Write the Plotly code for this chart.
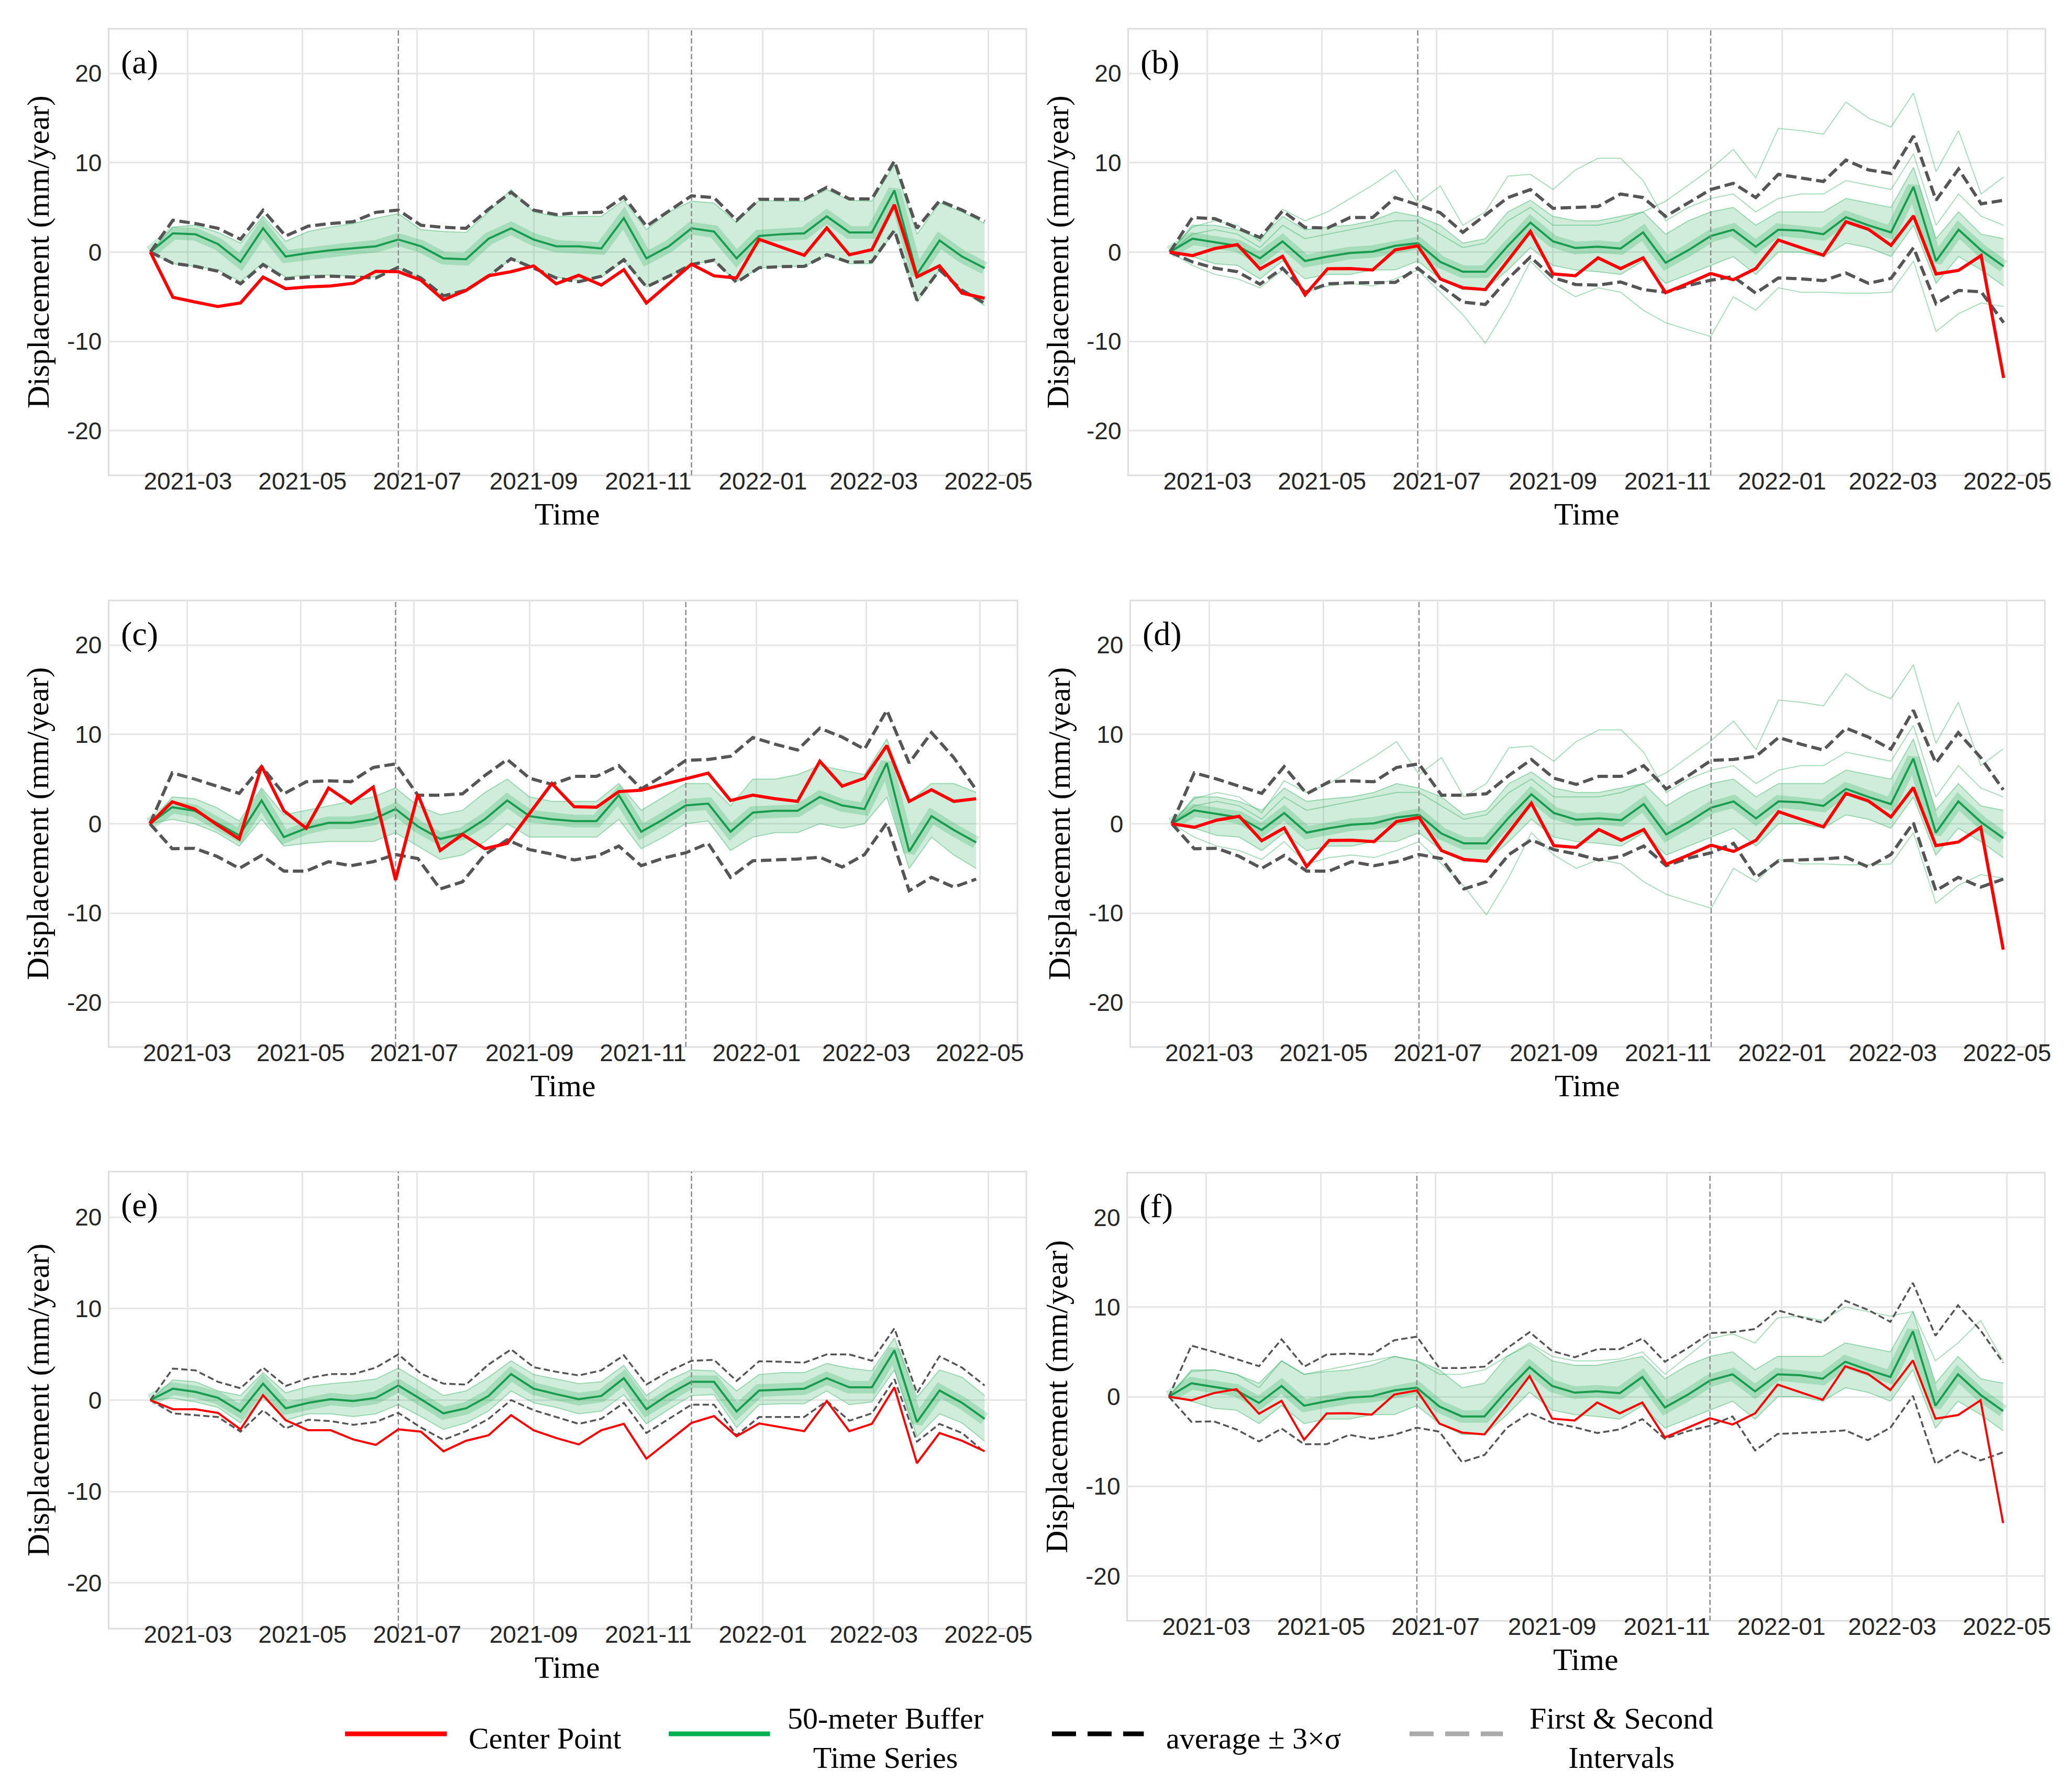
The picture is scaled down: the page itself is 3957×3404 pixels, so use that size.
import plotly.graph_objects as go

W, H = 3957, 3404

dates = ["2021-02-09", "2021-02-21", "2021-03-05", "2021-03-17", "2021-03-29", "2021-04-10",
         "2021-04-22", "2021-05-04", "2021-05-16", "2021-05-28", "2021-06-09", "2021-06-21",
         "2021-07-03", "2021-07-15", "2021-07-27", "2021-08-08", "2021-08-20", "2021-09-01",
         "2021-09-13", "2021-09-25", "2021-10-07", "2021-10-19", "2021-10-31", "2021-11-12",
         "2021-11-24", "2021-12-06", "2021-12-18", "2021-12-30", "2022-01-11", "2022-01-23",
         "2022-02-04", "2022-02-16", "2022-02-28", "2022-03-12", "2022-03-24", "2022-04-05",
         "2022-04-17", "2022-04-29"]

xtick_vals = ["2021-03-01", "2021-05-01", "2021-07-01", "2021-09-01", "2021-11-01",
              "2022-01-01", "2022-03-01", "2022-05-01"]
xtick_text = ["2021-03", "2021-05", "2021-07", "2021-09", "2021-11", "2022-01", "2022-03", "2022-05"]
ytick_vals = [-20, -10, 0, 10, 20]
ytick_text = ["-20", "-10", "0", "10", "20"]
interval_dates = ["2021-06-21", "2021-11-24"]
x_range = ["2021-01-17 19:00", "2022-05-21 05:00"]
y_range = [-25, 25]

# ---- center point series ----
red_a = [0, -5.06, -5.6, -6.1, -5.7, -2.8, -4.1, -3.9, -3.8, -3.5, -2.15, -2.2, -3.15, -5.35, -4.3, -2.65,
         -2.2, -1.55, -3.55, -2.6, -3.7, -1.97, -5.7, -3.5, -1.36, -2.66, -2.9, 1.43, 0.54, -0.36, 2.7,
         -0.3, 0.27, 5.3, -2.77, -1.54, -4.6, -5.17]
red_bdf = [0, -0.4, 0.4, 0.84, -1.9, -0.47, -4.8, -1.87, -1.84, -2.0, 0.24, 0.7, -3.0, -4.0, -4.2, -1.0,
           2.3, -2.45, -2.65, -0.65, -1.85, -0.65, -4.55, -3.5, -2.4, -3.1, -1.85, 1.35, 0.5, -0.35, 3.4,
           2.55, 0.75, 4.05, -2.45, -2.05, -0.4, -14.1]
red_c = [0, 2.45, 1.65, -0.1, -1.7, 6.45, 1.45, -0.5, 4.0, 2.3, 4.1, -6.3, 3.3, -3.0, -1.2, -2.8, -2.2,
         1.1, 4.5, 1.9, 1.85, 3.6, 3.75, 4.4, 5.0, 5.67, 2.6, 3.2, 2.8, 2.5, 7.0, 4.2, 5.1, 8.75, 2.5,
         3.8, 2.5, 2.8]
red_e = [0, -1.0, -1.0, -1.4, -3.2, 0.55, -2.2, -3.3, -3.3, -4.3, -4.9, -3.2, -3.45, -5.6, -4.45, -3.85,
         -1.65, -3.3, -4.15, -4.85, -3.3, -2.6, -6.4, -4.45, -2.5, -1.75, -3.95, -2.55, -3.0, -3.4, -0.1,
         -3.4, -2.6, 1.4, -6.9, -3.6, -4.45, -5.6]

# ---- average +/- 3 sigma envelopes ----
env_hi_a = [0, 3.56, 3.2, 2.66, 1.43, 4.68, 1.8, 2.9, 3.2, 3.4, 4.45, 4.7, 3.0, 2.77, 2.66, 4.8, 6.7, 4.7,
            4.2, 4.4, 4.45, 6.2, 2.9, 4.6, 6.3, 6.1, 3.55, 5.9, 5.9, 5.9, 7.25, 5.95, 5.95, 10.2, 2.66,
            5.75, 4.7, 3.45]
env_lo_a = [0, -1.25, -1.6, -2.15, -3.56, -1.4, -3.0, -2.8, -2.7, -2.77, -2.9, -1.7, -2.9, -4.9, -4.27,
            -2.7, -0.74, -1.8, -2.9, -3.33, -2.7, -0.85, -3.9, -2.7, -1.4, -0.9, -3.4, -1.75, -1.63, -1.6,
            -0.3, -1.14, -1.07, 2.44, -5.4, -2.0, -4.27, -5.73]
env_hi_b = [0, 3.87, 3.74, 2.7, 1.63, 4.6, 2.76, 2.7, 3.87, 3.87, 6.1, 5.3, 4.4, 2.2, 4.1, 6.1, 7.0, 4.9,
            5.0, 5.1, 6.5, 6.1, 4.0, 5.5, 7.0, 7.7, 6.1, 8.7, 8.3, 7.9, 10.3, 9.2, 8.8, 13.0, 5.8, 9.3,
            5.4, 5.8]
env_lo_b = [0, -1.1, -1.8, -2.2, -3.6, -1.8, -4.5, -3.55, -3.45, -3.4, -3.4, -1.8, -3.76, -5.6, -5.87,
            -3.0, -0.55, -2.85, -3.63, -3.7, -3.35, -4.2, -4.5, -3.75, -3.15, -2.75, -4.6, -2.9, -3.0,
            -3.2, -2.35, -3.5, -2.95, 0.5, -5.8, -4.3, -4.45, -7.9]
env_hi_cdf = [0, 5.7, 5.0, 4.2, 3.4, 6.4, 3.35, 4.7, 4.8, 4.7, 6.3, 6.7, 3.2, 3.2, 3.35, 5.4, 7.2, 5.1,
              4.4, 5.3, 5.3, 6.5, 3.9, 5.4, 7.1, 7.2, 7.55, 9.65, 8.9, 8.25, 10.7, 9.7, 8.35, 12.7, 6.8,
              10.2, 7.4, 3.8]
env_lo_cdf = [0, -2.8, -2.75, -3.65, -5.0, -3.55, -5.3, -5.3, -4.25, -4.7, -4.25, -3.45, -3.9, -7.3,
              -6.5, -3.45, -1.8, -2.9, -3.4, -4.05, -3.65, -2.5, -4.7, -3.85, -3.25, -2.2, -6.0, -4.15,
              -4.05, -3.95, -3.75, -4.85, -3.45, 0.1, -7.5, -6.0, -7.1, -6.2]
env_hi_e = [0, 3.45, 3.25, 2.0, 1.3, 3.55, 1.55, 2.4, 2.85, 2.85, 3.55, 5.0, 2.9, 1.8, 1.7, 3.9, 5.55,
            3.6, 3.1, 2.7, 3.25, 4.9, 1.7, 3.15, 4.3, 4.4, 2.1, 4.25, 4.2, 4.1, 5.0, 5.0, 4.3, 7.85,
            0.77, 4.8, 3.55, 1.6]
env_lo_e = [0, -1.45, -1.65, -1.85, -3.45, -1.1, -3.1, -2.15, -2.3, -2.7, -2.4, -1.4, -3.0, -4.35, -3.4,
            -2.05, 0.0, -1.1, -1.85, -2.6, -2.05, -0.3, -3.6, -2.05, -0.5, -0.5, -3.85, -1.85, -1.85,
            -1.85, -0.1, -2.25, -1.45, 2.3, -4.55, -2.6, -3.6, -5.7]

# ---- 50-meter buffer bundles (upper edge, lower edge, dense core) ----
grn_hi_a = [0, 2.8, 3.0, 2.2, 1.0, 4.0, 1.2, 2.3, 2.8, 3.2, 3.8, 4.3, 2.5, 2.3, 2.2, 4.5, 7.0, 4.5, 4.0,
            4.0, 4.0, 5.8, 2.5, 4.5, 5.7, 5.5, 3.3, 5.8, 5.7, 5.7, 7.0, 5.8, 5.7, 9.8, 2.0, 5.5, 4.5, 3.2]
grn_lo_a = [0, -1.3, -1.6, -2.0, -3.3, -1.2, -2.8, -2.6, -2.6, -2.7, -2.8, -1.8, -2.9, -5.0, -4.2, -2.6,
            -0.8, -1.8, -2.8, -3.2, -2.8, -1.0, -3.9, -2.7, -1.3, -1.0, -3.3, -1.8, -1.6, -1.6, -0.4,
            -1.3, -1.3, 2.4, -5.6, -2.0, -4.3, -6.0]
grn_mid_a = [0, 2.1, 2.0, 0.9, -1.1, 2.66, -0.5, -0.1, 0.2, 0.4, 0.65, 1.4, 0.65, -0.7, -0.8, 1.5, 2.66,
             1.4, 0.65, 0.65, 0.4, 3.8, -0.7, 0.65, 2.66, 2.3, -0.7, 1.8, 2.0, 2.1, 4.0, 2.2, 2.2, 6.9,
             -2.5, 1.3, -0.5, -1.8]

grn_hi_b = [0, 3.0, 3.0, 2.5, 1.5, 4.0, 2.5, 2.8, 3.0, 3.5, 4.5, 4.0, 3.0, 1.0, 1.5, 4.5, 5.8, 4.0, 3.5,
            3.5, 4.0, 4.5, 2.0, 3.5, 4.5, 5.0, 3.0, 4.5, 4.5, 4.5, 6.0, 5.5, 5.0, 9.5, 1.5, 4.5, 2.0, 1.5]
grn_lo_b = [0, -0.5, -1.3, -1.5, -3.0, -1.0, -3.0, -2.5, -2.5, -2.0, -2.0, -1.0, -3.0, -4.2, -4.2, -2.0,
            0.5, -1.5, -2.0, -2.2, -2.5, -1.0, -3.5, -2.5, -1.5, -0.5, -2.5, 0.0, 0.0, -0.5, 1.0, 0.5,
            -0.5, 3.0, -3.5, -0.5, -2.0, -3.8]
grn_mid_b = [0, 1.5, 1.1, 0.7, -0.7, 1.2, -1.0, -0.5, -0.1, 0.05, 0.7, 1.0, -1.1, -2.2, -2.2, 0.7, 3.3,
             1.2, 0.45, 0.6, 0.4, 2.2, -1.2, 0.2, 1.8, 2.5, 0.6, 2.5, 2.4, 2.0, 3.9, 3.0, 2.2, 7.3, -1.0,
             2.5, 0.2, -1.6]
grn_out1_b = [0, 2.0, 2.5, 2.0, 0.5, 3.0, 1.5, 2.0, 2.5, 3.0, 3.5, 3.5, 2.0, 0.5, 1.0, 3.5, 5.0, 3.0, 3.0,
              3.0, 3.5, 4.5, 5.7, 7.5, 9.3, 11.5, 8.3, 13.85, 13.6, 13.2, 16.8, 15.0, 14.0, 17.8, 9.0,
              13.6, 6.5, 8.4]
grn_out2_b = [0, 2.8, 3.5, 3.0, 1.2, 4.8, 3.5, 4.5, 6.0, 7.5, 9.2, 5.5, 7.4, 3.0, 4.5, 8.5, 8.7, 7.0, 9.2,
              10.5, 10.5, 8.0, 3.5, 5.0, 6.0, 6.5, 4.5, 6.0, 6.5, 6.5, 8.0, 7.5, 7.0, 11.0, 3.0, 6.5,
              4.0, 3.0]
grn_out3_b = [0, -1.5, -2.5, -3.0, -4.0, -2.0, -4.5, -3.8, -3.5, -3.8, -3.0, -2.0, -4.5, -7.0, -10.2,
              -6.0, -1.0, -3.5, -5.0, -4.0, -4.5, -6.5, -7.9, -8.7, -9.45, -5.0, -6.5, -4.0, -4.5, -4.5,
              -4.6, -4.6, -4.5, -1.0, -8.9, -6.9, -5.7, -6.1]

grn_hi_c = [0, 3.0, 2.8, 1.8, 0.3, 4.0, 1.0, 1.5, 2.0, 2.5, 3.0, 4.0, 2.0, 1.0, 1.5, 3.5, 5.0, 3.0, 2.5,
            2.5, 2.5, 4.5, 1.5, 3.0, 4.5, 4.5, 2.0, 5.0, 5.0, 5.5, 6.5, 6.0, 5.5, 9.5, 2.5, 4.5, 4.5, 3.5]
grn_lo_c = [0, 0.5, 0.0, -1.0, -2.5, 0.5, -2.5, -2.2, -2.0, -2.0, -2.0, -1.0, -2.5, -4.0, -3.5, -2.0,
            0.0, -1.5, -1.5, -1.5, -1.5, 0.5, -2.8, -1.5, 0.0, 0.3, -3.0, -1.5, -1.0, -1.0, 0.0, -0.5,
            0.0, 3.0, -5.0, -1.5, -3.5, -5.0]
grn_mid_c = [0, 1.85, 1.45, 0.1, -1.3, 2.6, -1.5, -0.5, 0.1, 0.1, 0.5, 1.65, -0.3, -1.7, -1.1, 0.5, 2.6,
             0.85, 0.5, 0.3, 0.3, 3.2, -0.9, 0.5, 2.05, 2.25, -0.9, 1.25, 1.45, 1.45, 3.0, 2.05, 1.65,
             6.8, -3.1, 0.85, -0.7, -2.1]

grn_hi_e = [0, 2.2, 2.0, 1.0, 0.5, 3.0, 0.8, 1.5, 1.8, 2.0, 2.3, 3.5, 2.0, 0.5, 1.0, 2.5, 4.3, 2.8, 2.3,
            1.8, 2.0, 3.8, 0.5, 2.2, 3.3, 3.2, 1.0, 2.8, 3.0, 3.0, 4.0, 3.5, 3.2, 6.8, 0.3, 3.3, 2.5, 0.5]
grn_lo_e = [0, 0.2, -0.2, -0.8, -2.5, 0.3, -2.2, -1.5, -1.5, -1.8, -1.5, -0.5, -1.8, -3.2, -2.5, -1.2,
            1.0, -0.3, -0.8, -1.5, -1.2, 0.6, -2.6, -1.0, 0.5, 0.6, -3.0, -0.5, -0.4, -0.4, 1.0, -0.5,
            -0.2, 3.3, -4.0, -1.5, -2.5, -4.5]
grn_mid_e = [0, 1.25, 0.9, 0.25, -1.25, 1.8, -0.9, -0.3, 0.1, -0.1, 0.25, 1.6, 0.1, -1.45, -0.9, 0.45,
             2.85, 1.25, 0.65, 0.1, 0.45, 2.4, -1.0, 0.65, 2.0, 2.0, -1.25, 1.05, 1.15, 1.25, 2.4, 1.4,
             1.4, 5.45, -2.4, 1.05, -0.3, -2.05]

grn_out_f = [0, 2.8, 3.0, 2.5, 1.0, 4.0, 2.5, 3.0, 3.5, 4.0, 4.5, 4.0, 2.5, 2.5, 3.0, 4.5, 6.0, 4.5, 4.0,
             4.0, 4.2, 5.0, 2.5, 4.5, 6.5, 7.0, 6.0, 8.8, 9.0, 8.5, 10.0, 9.5, 9.0, 9.5, 4.0, 6.0, 8.5,
             4.0]

panel_labels = ["(a)", "(b)", "(c)", "(d)", "(e)", "(f)"]
legend_labels = ["Center Point", "50-meter Buffer<br>Time Series", "average ± 3×σ",
                 "First &amp; Second<br>Intervals"]
y_title = "Displacement (mm/year)"
x_title = "Time"

# ---------------- styling / layout ----------------
SERIF = "Liberation Serif, Times New Roman, serif"
SANS = "Liberation Sans, Arial, sans-serif"
RED = "#ff0000"
ENV = "#555555"
GRID = "#e6e6e6"
FRAME = "#dddddd"

# pixel boxes (left, right, top, bottom)
boxes = [(200, 1958, 47, 900), (2153, 3910, 47, 900),
         (200, 1941, 1139, 1992), (2157, 3909, 1139, 1992),
         (200, 1958, 2230, 3103), (2151, 3909, 2232, 3088)]

panels = [
    dict(red=red_a, ehi=env_hi_a, elo=env_lo_a, ghi=grn_hi_a, glo=grn_lo_a, gmid=grn_mid_a, extra=[], thick=True),
    dict(red=red_bdf, ehi=env_hi_b, elo=env_lo_b, ghi=grn_hi_b, glo=grn_lo_b, gmid=grn_mid_b,
         extra=[grn_out1_b, grn_out2_b, grn_out3_b], thick=True),
    dict(red=red_c, ehi=env_hi_cdf, elo=env_lo_cdf, ghi=grn_hi_c, glo=grn_lo_c, gmid=grn_mid_c, extra=[], thick=True),
    dict(red=red_bdf, ehi=env_hi_cdf, elo=env_lo_cdf, ghi=grn_hi_b, glo=grn_lo_b, gmid=grn_mid_b,
         extra=[grn_out1_b, grn_out2_b, grn_out3_b], thick=True),
    dict(red=red_e, ehi=env_hi_e, elo=env_lo_e, ghi=grn_hi_e, glo=grn_lo_e, gmid=grn_mid_e, extra=[], thick=False),
    dict(red=red_bdf, ehi=env_hi_cdf, elo=env_lo_cdf, ghi=grn_hi_b, glo=grn_lo_b, gmid=grn_mid_b,
         extra=[grn_out_f], thick=False),
]

fig = go.Figure()
annotations = []
shapes = []
layout_axes = {}


def px2x(p):
    return p / W


def px2y(p):
    return 1 - p / H


for i, (p, box) in enumerate(zip(panels, boxes)):
    suf = "" if i == 0 else str(i + 1)
    xa, ya = "x" + suf, "y" + suf
    L, R, T, B = box
    common = dict(xaxis=xa, yaxis=ya, mode="lines", hoverinfo="skip", showlegend=False)

    # buffer bundle: filled band between lower and upper edges
    fig.add_trace(go.Scatter(x=dates, y=p["glo"], line=dict(color="rgba(40,170,90,0.40)", width=2), **common))
    fig.add_trace(go.Scatter(x=dates, y=p["ghi"], fill="tonexty", fillcolor="rgba(55,180,100,0.24)",
                             line=dict(color="rgba(40,170,90,0.40)", width=2), **common))
    for ex in p["extra"]:
        fig.add_trace(go.Scatter(x=dates, y=ex, line=dict(color="rgba(50,175,95,0.42)", width=2), **common))
    # dense core of the bundle
    fig.add_trace(go.Scatter(x=dates, y=p["gmid"], line=dict(color="rgba(20,160,70,0.22)", width=24), **common))
    fig.add_trace(go.Scatter(x=dates, y=p["gmid"], line=dict(color="rgba(0,145,60,0.85)", width=4), **common))

    # interval lines
    for d in interval_dates:
        fig.add_trace(go.Scatter(x=[d, d], y=y_range, line=dict(color="#8c8c8c", width=2.5, dash="10px,5px"),
                                 **common))

    # envelope
    ew = 6 if p["thick"] else 3.5
    ed = "20px,9px" if p["thick"] else "12px,6px"
    fig.add_trace(go.Scatter(x=dates, y=p["ehi"], line=dict(color=ENV, width=ew, dash=ed), **common))
    fig.add_trace(go.Scatter(x=dates, y=p["elo"], line=dict(color=ENV, width=ew, dash=ed), **common))

    # center point
    fig.add_trace(go.Scatter(x=dates, y=p["red"], line=dict(color=RED, width=6 if p["thick"] else 4),
                             **common))

    xkey = "xaxis" + suf
    ykey = "yaxis" + suf
    layout_axes[xkey] = dict(domain=[px2x(L), px2x(R)], anchor=ya, type="date", range=x_range,
                             tickmode="array", tickvals=xtick_vals, ticktext=xtick_text,
                             showgrid=True, gridcolor=GRID, gridwidth=3, zeroline=False,
                             showline=False, ticks="", ticklen=0, ticklabelstandoff=-20,
                             tickfont=dict(family=SANS, size=46, color="#262626"))
    layout_axes[ykey] = dict(domain=[px2y(B), px2y(T)], anchor=xa, range=y_range,
                             tickmode="array", tickvals=ytick_vals, ticktext=ytick_text,
                             showgrid=True, gridcolor=GRID, gridwidth=3, zeroline=False,
                             showline=False, ticks="", ticklen=0, ticklabelstandoff=12,
                             tickfont=dict(family=SANS, size=46, color="#262626"))

    # light frame around the axes
    shapes.append(dict(type="rect", xref="paper", yref="paper", x0=px2x(L), x1=px2x(R), y0=px2y(B),
                       y1=px2y(T), line=dict(color=FRAME, width=3), layer="below"))

    annotations.append(dict(text=panel_labels[i], x=px2x(L + 22), y=px2y(T + 63), xref="paper", yref="paper",
                            xanchor="left", yanchor="middle", showarrow=False,
                            font=dict(family=SERIF, size=64, color="black")))
    annotations.append(dict(text=y_title, x=px2x(L - 135), y=px2y((T + B) / 2), xref="paper", yref="paper",
                            xanchor="center", yanchor="middle", textangle=-90, showarrow=False,
                            font=dict(family=SERIF, size=60, color="black")))
    annotations.append(dict(text=x_title, x=px2x((L + R) / 2), y=px2y(B + 74), xref="paper", yref="paper",
                            xanchor="center", yanchor="middle", showarrow=False,
                            font=dict(family=SERIF, size=60, color="black")))

# ---------------- legend (manual) ----------------
leg_y = 3304
leg_items = [
    dict(x0=653, x1=848, color=RED, dash="solid", text=legend_labels[0], tx=888, anchor="left"),
    dict(x0=1273, x1=1467, color="#00b050", dash="solid", text=legend_labels[1], tx=1688, anchor="center"),
    dict(x0=2007, x1=2183, color="#000000", dash="46px,22px", text=legend_labels[2], tx=2224, anchor="left"),
    dict(x0=2692, x1=2871, color="#aaaaaa", dash="46px,22px", text=legend_labels[3], tx=3098, anchor="center"),
]
for it in leg_items:
    shapes.append(dict(type="line", xref="paper", yref="paper", x0=px2x(it["x0"]), x1=px2x(it["x1"]),
                       y0=px2y(leg_y), y1=px2y(leg_y), line=dict(color=it["color"], width=9, dash=it["dash"])))
    annotations.append(dict(text=it["text"], x=px2x(it["tx"]), y=px2y(leg_y + 8), xref="paper", yref="paper",
                            xanchor=it["anchor"], yanchor="middle", align="center", showarrow=False,
                            font=dict(family=SERIF, size=58, color="black")))

fig.update_layout(width=W, height=H, margin=dict(l=0, r=0, t=0, b=0),
                  paper_bgcolor="white", plot_bgcolor="white", showlegend=False,
                  annotations=annotations, shapes=shapes, **layout_axes)

fig.write_html("out.html")
